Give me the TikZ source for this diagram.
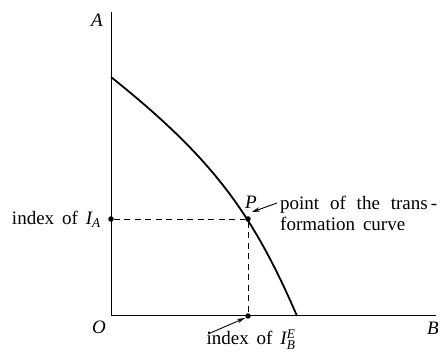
\documentclass[tikz,border=0pt]{standalone}
\usepackage{amsmath}
\usepackage{fontspec}
\setmainfont{Liberation Serif}
\usetikzlibrary{arrows.meta}
\begin{document}
\begin{tikzpicture}[x=1pt,y=-1pt,
  lbl/.style={inner sep=0pt,font=\fontsize{19}{20.5}\selectfont},
  axis/.style={line width=1pt},
  dot/.style={circle,fill=black,inner sep=0pt,minimum size=5.5pt},
  guide/.style={dashed,dash pattern=on 6pt off 4.5pt,line width=0.9pt},
  pointer/.style={line width=0.9pt,-{Stealth[length=8pt,width=4.5pt]}}]
\useasboundingbox (0,0) rectangle (440,352);
\coordinate (Atop) at (111,12);
\coordinate (O) at (111,316);
\coordinate (Bend) at (436,316);
\coordinate (C0) at (111,77);
\coordinate (C1) at (297,316);
\draw[axis] (Atop) -- (O) -- (Bend);
\draw[line width=1.8pt] (C0) .. controls (211,157) and (252,211.5) .. (C1);
\node[dot] (P) at (248,219) {};
\node[dot] (IA) at (111,219) {};
\node[dot] (IB) at (248,316) {};
\draw[guide] (IA) -- (P);
\draw[guide] (P) -- (IB);
\node[lbl,anchor=east] (Alab) at (103,20) {\textit{A}};
\node[lbl,anchor=east] (Olab) at (106,327) {\textit{O}};
\node[lbl] (Blab) at (433,328) {\textit{B}};
\node[lbl] (Plab) at (251,202) {\textit{P}};
\node[lbl,anchor=east] (IAlab) at (101,219) {index\, of\, $\textit{I}_{\textit{A}}$};
\node[lbl,anchor=north west,align=left] (ptxt) at (280,196) {\makebox[157pt][s]{point of the trans\,-}\\formation\, curve};
\node[lbl] (IBlab) at (251,339.5) {index\, of\, $\textit{I}^{\textit{E}}_{\textit{B}}$};
\coordinate (t1) at (208,334);
\coordinate (t0) at (277,203);
\draw[pointer] (t0) -- (252,212);
\draw[pointer] (t1) -- (245,318);
\end{tikzpicture}
\end{document}
